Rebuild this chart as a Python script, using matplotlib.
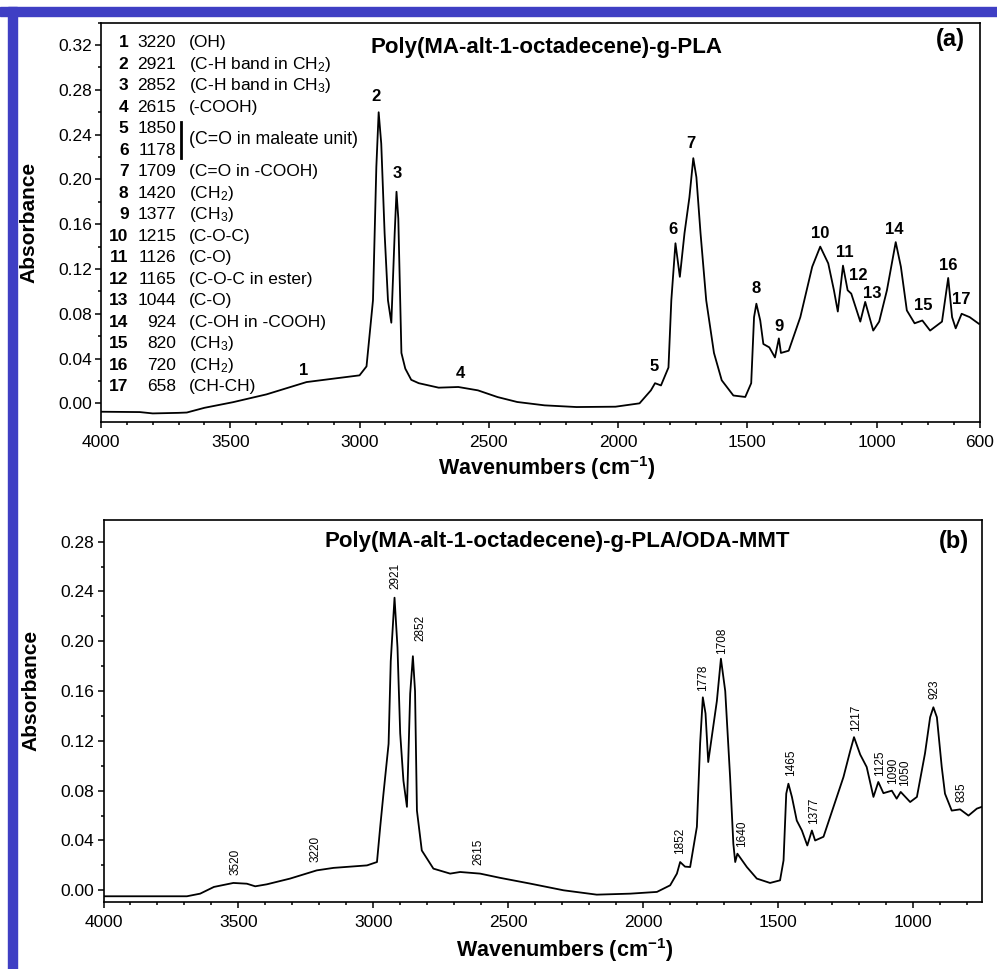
import matplotlib
matplotlib.use('Agg')
import matplotlib.pyplot as plt
from matplotlib.patches import Rectangle
from matplotlib.ticker import MultipleLocator, FixedLocator

plt.rcParams['font.family'] = ['Liberation Sans', 'DejaVu Sans']
plt.rcParams['mathtext.fontset'] = 'custom'
plt.rcParams['mathtext.rm'] = 'Liberation Sans'
plt.rcParams['mathtext.it'] = 'Liberation Sans:italic'
plt.rcParams['mathtext.bf'] = 'Liberation Sans:bold'

# ---------------- data: panel (a) ----------------
wave_a = [4000, 3850, 3800, 3700, 3668, 3600, 3490, 3360, 3205, 3103, 3000, 2973, 2948, 2935,
          2926, 2916, 2903, 2890, 2877, 2864, 2857, 2850, 2838, 2823, 2800, 2771, 2694, 2618,
          2542, 2466, 2390, 2284, 2161, 2010, 1917, 1873, 1857, 1834, 1805, 1794, 1778, 1761,
          1743, 1724, 1709, 1697, 1681, 1659, 1629, 1599, 1554, 1508, 1485, 1474, 1465, 1450,
          1438, 1415, 1393, 1378, 1370, 1340, 1295, 1249, 1218, 1187, 1165, 1150, 1130, 1112,
          1098, 1063, 1044, 1013, 990, 960, 926, 906, 883, 853, 823, 793, 747, 723, 708, 694,
          671, 640, 604]
abs_a = [-0.0075, -0.0078, -0.009, -0.0085, -0.0082, -0.004, 0.001, 0.008, 0.019, 0.022, 0.025,
         0.033, 0.092, 0.211, 0.260, 0.232, 0.152, 0.092, 0.072, 0.152, 0.189, 0.165, 0.045,
         0.031, 0.021, 0.018, 0.014, 0.0146, 0.0116, 0.0056, 0.0012, -0.0018, -0.0033, -0.003,
         0.000, 0.0116, 0.018, 0.016, 0.032, 0.092, 0.143, 0.113, 0.152, 0.184, 0.219, 0.202,
         0.152, 0.092, 0.045, 0.0206, 0.007, 0.0057, 0.018, 0.077, 0.089, 0.074, 0.053, 0.050,
         0.041, 0.058, 0.045, 0.047, 0.077, 0.122, 0.140, 0.125, 0.101, 0.082, 0.123, 0.101,
         0.098, 0.073, 0.0906, 0.065, 0.073, 0.101, 0.144, 0.122, 0.083, 0.0715, 0.074, 0.065,
         0.073, 0.112, 0.077, 0.067, 0.080, 0.077, 0.071]

peak_num_a = ['1', '2', '3', '4', '5', '6', '7', '8', '9', '10', '11', '12', '13', '14', '15', '16', '17']
peak_w_a = [3218, 2935, 2854, 2610, 1862, 1789, 1719, 1466, 1378, 1218, 1124, 1069, 1017, 932, 820, 724, 671]
peak_y_a = [0.0297, 0.274, 0.205, 0.0268, 0.0327, 0.155, 0.232, 0.1027, 0.0684, 0.152, 0.135,
            0.1146, 0.098, 0.155, 0.0878, 0.1235, 0.0929]

table_wn = ['3220', '2921', '2852', '2615', '1850', '1178', '1709', '1420', '1377', '1215',
            '1126', '1165', '1044', '924', '820', '720', '658']
table_desc = ['(OH)', '(C-H band in CH$_2$)', '(C-H band in CH$_3$)', '(-COOH)', '', '',
              '(C=O in -COOH)', '(CH$_2$)', '(CH$_3$)', '(C-O-C)', '(C-O)', '(C-O-C in ester)',
              '(C-O)', '(C-OH in -COOH)', '(CH$_3$)', '(CH$_2$)', '(CH-CH)']
table_group_desc = '(C=O in maleate unit)'

# ---------------- data: panel (b) ----------------
wave_b = [4000, 3691, 3642, 3591, 3519, 3469, 3438, 3395, 3309, 3210, 3148, 3024, 2987, 2975,
          2963, 2944, 2936, 2922, 2911, 2901, 2889, 2876, 2864, 2854, 2846, 2839, 2821, 2778,
          2716, 2679, 2605, 2531, 2420, 2296, 2173, 2049, 1950, 1901, 1876, 1864, 1846, 1827,
          1802, 1790, 1780, 1770, 1760, 1747, 1728, 1713, 1697, 1679, 1667, 1660, 1652, 1617,
          1580, 1531, 1494, 1481, 1471, 1463, 1450, 1432, 1413, 1393, 1376, 1364, 1333, 1296,
          1259, 1234, 1220, 1197, 1173, 1148, 1130, 1111, 1080, 1062, 1047, 1012, 987, 957, 938,
          926, 913, 895, 883, 858, 827, 796, 765, 747]
abs_b = [-0.0048, -0.0048, -0.0027, 0.0027, 0.0059, 0.0053, 0.0032, 0.0048, 0.0094, 0.016, 0.018,
         0.020, 0.0227, 0.051, 0.0775, 0.1176, 0.184, 0.235, 0.195, 0.126, 0.088, 0.067, 0.158,
         0.188, 0.160, 0.064, 0.032, 0.0174, 0.0134, 0.0147, 0.0134, 0.010, 0.0054, 0.0, -0.0035,
         -0.0027, -0.0013, 0.004, 0.0134, 0.0227, 0.019, 0.0187, 0.051, 0.118, 0.155, 0.142,
         0.103, 0.123, 0.152, 0.186, 0.160, 0.091, 0.0375, 0.0227, 0.0294, 0.0187, 0.0094,
         0.0059, 0.008, 0.024, 0.0776, 0.0856, 0.075, 0.056, 0.048, 0.036, 0.048, 0.040, 0.043,
         0.067, 0.091, 0.112, 0.123, 0.109, 0.099, 0.075, 0.087, 0.078, 0.080, 0.0736, 0.079,
         0.0709, 0.075, 0.110, 0.139, 0.147, 0.139, 0.099, 0.0776, 0.064, 0.065, 0.060, 0.0656,
         0.067]

peak_lab_b = ['3520', '3220', '2921', '2852', '2615', '1852', '1778', '1708', '1640', '1465',
              '1377', '1217', '1125', '1090', '1050', '923', '835']
peak_w_b = [3512, 3216, 2920, 2826, 2611, 1864, 1780, 1707, 1636, 1454, 1367, 1212, 1123, 1076,
            1031, 923, 821]
peak_y_b = [0.012, 0.0227, 0.242, 0.2006, 0.020, 0.029, 0.160, 0.190, 0.035, 0.092, 0.0535,
            0.128, 0.092, 0.0856, 0.084, 0.154, 0.071]

xticks_a = [4000, 3500, 3000, 2500, 2000, 1500, 1000, 600]
xticks_b = [4000, 3500, 3000, 2500, 2000, 1500, 1000]
yticks_a = [0.00, 0.04, 0.08, 0.12, 0.16, 0.20, 0.24, 0.28, 0.32]
yticks_b = [0.00, 0.04, 0.08, 0.12, 0.16, 0.20, 0.24, 0.28]

# ---------------- figure ----------------
W, H = 997, 969
fig = plt.figure(figsize=(W / 100, H / 100), dpi=100)
fig.patch.set_facecolor('white')


def fxp(px):
    return px / W


def fyp(py):
    return 1 - py / H


# blue frame
blue = '#3f3fc4'
fig.patches.append(Rectangle((0, fyp(16)), 1, fyp(7) - fyp(16), transform=fig.transFigure,
                             color=blue, zorder=0))
fig.patches.append(Rectangle((fxp(8), 0), fxp(17) - fxp(8), fyp(7), transform=fig.transFigure,
                             color=blue, zorder=0))

axa = fig.add_axes([fxp(101), fyp(421.7), fxp(980) - fxp(101), fyp(22.7) - fyp(421.7)])
axb = fig.add_axes([fxp(103.5), fyp(902), fxp(981.7) - fxp(103.5), fyp(520) - fyp(902)])

for ax in (axa, axb):
    for sp in ax.spines.values():
        sp.set_linewidth(1.2)
    ax.tick_params(which='both', direction='out', top=False, right=False, width=1.1,
                   labelsize=12.5, colors='black')
    ax.tick_params(which='major', length=4.5)
    ax.tick_params(which='minor', length=2.5)
    ax.tick_params(axis='x', pad=5)
    ax.tick_params(axis='y', pad=2)
    ax.xaxis.set_minor_locator(MultipleLocator(100))
    ax.yaxis.set_minor_locator(MultipleLocator(0.02))

# panel (a)
axa.plot(wave_a, abs_a, color='black', lw=1.3)
axa.set_xlim(4000, 600)
axa.set_ylim(-0.0164, 0.340)
axa.xaxis.set_major_locator(FixedLocator(xticks_a))
axa.set_xticklabels([str(t) for t in xticks_a])
axa.set_yticks(yticks_a)
axa.set_yticklabels(['%.2f' % t for t in yticks_a])
for lab, w, a in zip(peak_num_a, peak_w_a, peak_y_a):
    axa.text(w, a, lab, ha='center', va='center', fontsize=12, fontweight='bold')

axa.text(0.507, 0.939, 'Poly(MA-alt-1-octadecene)-g-PLA', transform=axa.transAxes,
         ha='center', va='center', fontsize=16, fontweight='bold')
axa.text(0.966, 0.957, '(a)', transform=axa.transAxes, ha='center', va='center',
         fontsize=17, fontweight='bold')

# table in panel (a)
for i, (wn, ds) in enumerate(zip(table_wn, table_desc)):
    py = 42.7 + 21.5 * i
    fig.text(fxp(128.5), fyp(py), str(i + 1), ha='right', va='center', fontsize=12.5,
             fontweight='bold')
    fig.text(fxp(176), fyp(py), wn, ha='right', va='center', fontsize=12.5)
    if ds:
        fig.text(fxp(188.5), fyp(py), ds, ha='left', va='center', fontsize=12.5)
fig.text(fxp(188.5), fyp(139.5), table_group_desc, ha='left', va='center', fontsize=12.8)
fig.add_artist(plt.Line2D([fxp(180.5), fxp(180.5)], [fyp(122), fyp(158)],
                          transform=fig.transFigure, color='black', lw=2))

# panel (b)
axb.plot(wave_b, abs_b, color='black', lw=1.3)
axb.set_xlim(4000, 747)
axb.set_ylim(-0.0094, 0.2974)
axb.xaxis.set_major_locator(FixedLocator(xticks_b))
axb.set_xticklabels([str(t) for t in xticks_b])
axb.set_yticks(yticks_b)
axb.set_yticklabels(['%.2f' % t for t in yticks_b])
for lab, w, a in zip(peak_lab_b, peak_w_b, peak_y_b):
    axb.text(w, a, lab, ha='center', va='bottom', rotation=90, fontsize=8.5,
             family=['Liberation Sans Narrow', 'Liberation Sans'])

axb.text(0.517, 0.945, 'Poly(MA-alt-1-octadecene)-g-PLA/ODA-MMT', transform=axb.transAxes,
         ha='center', va='center', fontsize=16, fontweight='bold')
axb.text(0.968, 0.945, '(b)', transform=axb.transAxes, ha='center', va='center',
         fontsize=17, fontweight='bold')

# axis labels
xlab = r'Wavenumbers (cm$^{\mathbf{-1}}$)'
fig.text(fxp(547), fyp(468), xlab, ha='center', va='center', fontsize=15.5, fontweight='bold')
fig.text(fxp(565), fyp(950), xlab, ha='center', va='center', fontsize=15.5, fontweight='bold')
fig.text(fxp(29), fyp(222), 'Absorbance', ha='center', va='center', rotation=90,
         fontsize=15, fontweight='bold')
fig.text(fxp(31), fyp(690), 'Absorbance', ha='center', va='center', rotation=90,
         fontsize=15, fontweight='bold')

fig.savefig('out.png', dpi=100, facecolor='white')
